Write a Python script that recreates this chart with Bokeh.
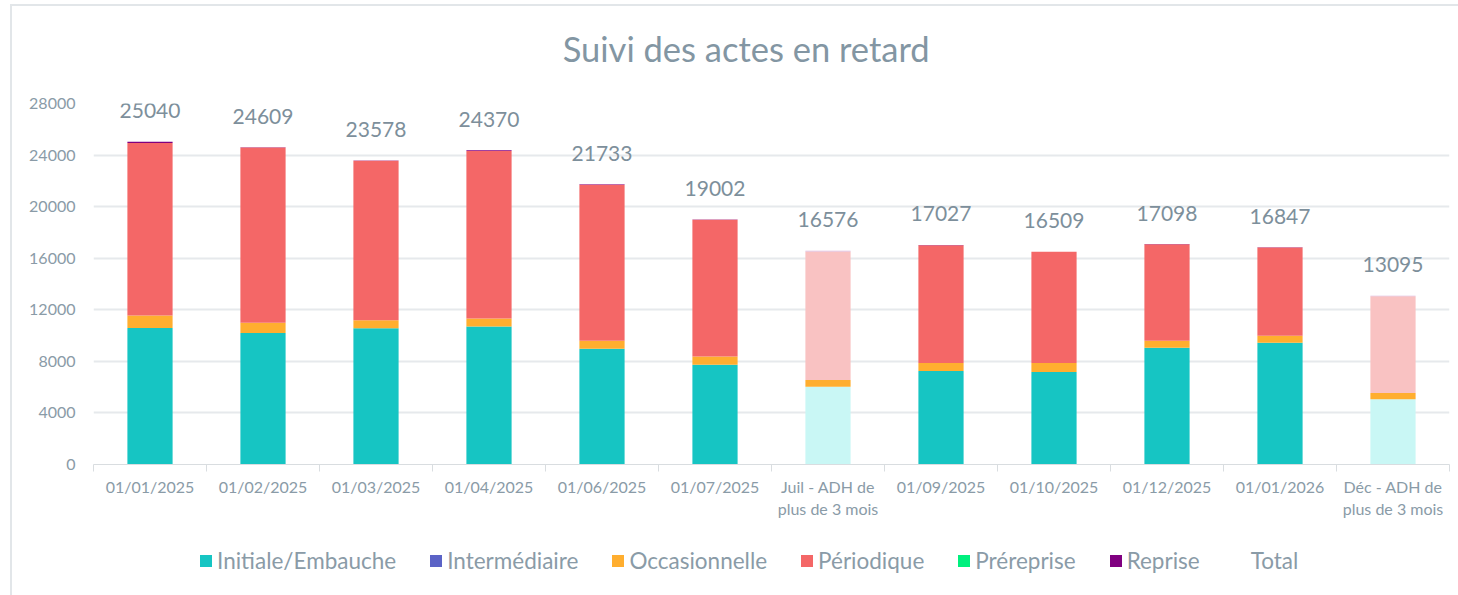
from bokeh.plotting import figure
from bokeh.layouts import column
from bokeh.models import ColumnDataSource, Range1d, FixedTicker, Legend, LegendItem
from bokeh.core.properties import value
from bokeh.embed import file_html
from bokeh.resources import INLINE

title = "Suivi des actes en retard"
categories = ["01/01/2025", "01/02/2025", "01/03/2025", "01/04/2025", "01/06/2025",
              "01/07/2025", "Juil - ADH de\nplus de 3 mois", "01/09/2025", "01/10/2025",
              "01/12/2025", "01/01/2026", "Déc - ADH de\nplus de 3 mois"]
totals = [25040, 24609, 23578, 24370, 21733, 19002, 16576, 17027, 16509, 17098, 16847, 13095]
initiale = [10580, 10190, 10560, 10700, 8970, 7740, 6040, 7260, 7180, 9060, 9450, 5060]
intermediaire = [0, 0, 0, 0, 0, 0, 0, 0, 0, 0, 0, 0]
occasionnelle = [980, 800, 620, 630, 630, 630, 520, 620, 700, 540, 540, 490]
periodique = [13380, 13599, 12378, 12980, 12103, 10612, 9956, 9127, 8619, 7478, 6847, 7505]
prereprise = [0, 0, 0, 0, 0, 0, 0, 0, 0, 0, 0, 0]
reprise = [100, 20, 20, 60, 30, 20, 60, 20, 10, 20, 10, 40]
y_ticks = [0, 4000, 8000, 12000, 16000, 20000, 24000, 28000]

series_names = ["Initiale/Embauche", "Intermédiaire", "Occasionnelle", "Périodique",
                "Préreprise", "Reprise"]
series_values = [initiale, intermediaire, occasionnelle, periodique, prereprise, reprise]
colors = ["#16C5C3", "#5B63C6", "#FFAE2F", "#F46767", "#00F07E", "#800080"]
light_colors = ["#C9F7F5", "#C5C8EE", "#FFAE2F", "#F9C2C2", "#B3FAD8", "#D9B5DC"]

FONT = "Lato"
TXT = "#8A9BA7"
W = 1446

n = len(categories)
xs = [i + 0.5 for i in range(n)]
is_light = ["ADH" in c for c in categories]

# ---- title strip ----
HT = 85
pt = figure(width=W, height=HT, output_backend="svg", toolbar_location=None,
            x_range=Range1d(0, W), y_range=Range1d(0, HT),
            x_axis_location=None, y_axis_location=None,
            min_border_left=0, min_border_right=0, min_border_top=0, min_border_bottom=0)
pt.grid.visible = False
pt.outline_line_color = None
pt.text(x=[696], y=[HT - 42], text=[title], text_align="center", text_baseline="middle",
        text_font=value(FONT), text_font_size="34.5px", text_color="#8396A3")

# ---- main chart ----
H1 = 444
p = figure(width=W, height=H1, output_backend="svg", toolbar_location=None,
           x_range=Range1d(0, n), y_range=Range1d(0, 28000),
           min_border_left=81, min_border_right=9, min_border_top=12,
           min_border_bottom=71)

data = dict(x=xs)
bottom = [0] * n
for k, vals in enumerate(series_values):
    top = [b + v for b, v in zip(bottom, vals)]
    data[f"b{k}"] = bottom
    data[f"t{k}"] = top
    data[f"c{k}"] = [light_colors[k] if lt else colors[k] for lt in is_light]
    bottom = top
data["total"] = totals
data["label"] = [str(t) for t in totals]
src = ColumnDataSource(data)

for k, name in enumerate(series_names):
    p.vbar(x="x", bottom=f"b{k}", top=f"t{k}", width=0.4, source=src,
           fill_color=f"c{k}", line_color=None)

p.text(x="x", y="total", text="label", source=src, text_align="center",
       text_baseline="middle", y_offset=-31, text_font=value(FONT),
       text_font_size="21px", text_color="#7D8F9B")

p.xaxis.ticker = FixedTicker(ticks=xs, minor_ticks=list(range(n + 1)))
p.xaxis.major_label_overrides = {x: c for x, c in zip(xs, categories)}
p.xaxis.major_tick_line_color = None
p.xaxis.major_tick_out = 0
p.xaxis.major_tick_in = 0
p.xaxis.minor_tick_line_color = "#D9DDE0"
p.xaxis.minor_tick_out = 7
p.xaxis.minor_tick_in = 0
p.xaxis.axis_line_color = "#D9DDE0"
p.xaxis.major_label_text_font = FONT
p.xaxis.major_label_text_font_size = "16px"
p.xaxis.major_label_text_color = TXT
p.xaxis.major_label_standoff = 5

p.yaxis.ticker = FixedTicker(ticks=y_ticks)
p.yaxis.axis_line_color = None
p.yaxis.major_tick_line_color = None
p.yaxis.minor_tick_line_color = None
p.yaxis.major_label_text_font = FONT
p.yaxis.major_label_text_font_size = "16px"
p.yaxis.major_label_text_color = TXT
p.yaxis.major_label_standoff = 12

p.xgrid.grid_line_color = None
p.ygrid.grid_line_color = "#E6E9EC"
p.ygrid.grid_line_width = 2
p.outline_line_color = None

# ---- legend strip ----
H2 = 60
pl = figure(width=W, height=H2, output_backend="svg", toolbar_location=None,
            x_range=Range1d(0, 1), y_range=Range1d(0, 1),
            x_axis_location=None, y_axis_location=None,
            min_border_left=0, min_border_right=0, min_border_top=0, min_border_bottom=0)
pl.grid.visible = False
pl.outline_line_color = None
items = []
for k, name in enumerate(series_names):
    r = pl.vbar(x=[-5], top=[0], width=0.1, fill_color=colors[k], line_color=None)
    items.append(LegendItem(label=name, renderers=[r]))
r_total = pl.vbar(x=[-5], top=[0], width=0.1, fill_alpha=0, line_alpha=0)
items.append(LegendItem(label="Total", renderers=[r_total]))

legend = Legend(items=items, orientation="horizontal", location=(105, 21),
                label_text_font=FONT, label_text_font_size="22.5px", label_text_color=TXT,
                glyph_width=15, glyph_height=15, label_standoff=4, spacing=32,
                border_line_color=None, background_fill_alpha=0, margin=0, padding=4)
pl.add_layout(legend, "center")

layout = column(pt, p, pl, spacing=0,
                styles={"margin-left": "10px", "margin-top": "4px",
                        "border-left": "2px solid #E2E6E9",
                        "border-top": "2px solid #E2E6E9"})
open("out.html", "w").write(file_html(layout, INLINE))
